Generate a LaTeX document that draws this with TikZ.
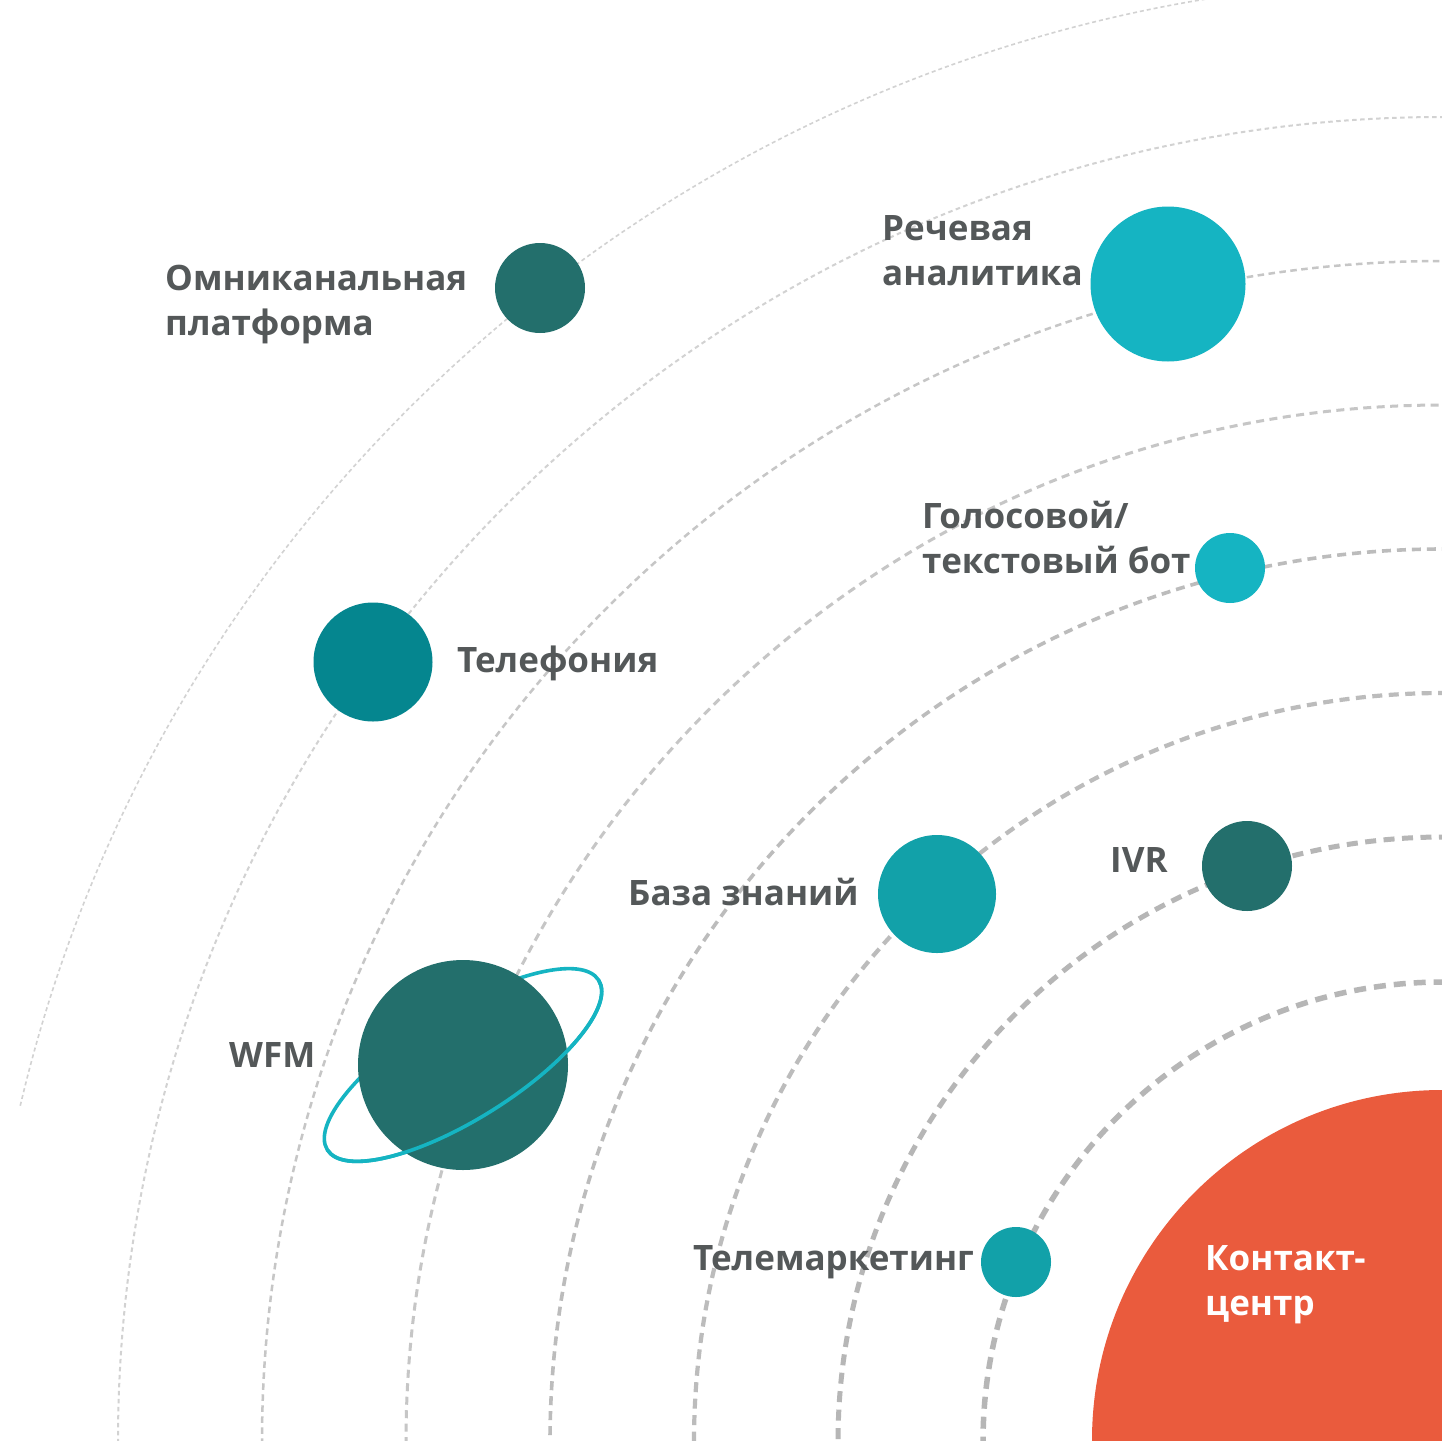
\documentclass[tikz,border=0pt]{standalone}
\usepackage{fontspec}
\setmainfont{Open Sans}
\definecolor{darkteal}{HTML}{236F6C}
\definecolor{cyanp}{HTML}{15B4C2}
\definecolor{tealp}{HTML}{05868F}
\definecolor{tealq}{HTML}{12A1A9}
\definecolor{redp}{HTML}{EA5B3D}
\definecolor{txtgray}{HTML}{545859}
\definecolor{arcA}{HTML}{B6B6B6}
\definecolor{arcB}{HTML}{BCBCBC}
\definecolor{arcC}{HTML}{C6C6C6}
\definecolor{arcD}{HTML}{D2D2D2}
\tikzset{
  planet/.style={circle, inner sep=0pt, draw=none},
  lbl/.style={anchor=base west, inner sep=0pt, text=txtgray, align=left,
    font=\bfseries\fontsize{35}{45}\selectfont},
  orbit/.style={line cap=butt}
}
\begin{document}
\begin{tikzpicture}[x=1pt,y=-1pt]
\useasboundingbox (0,0) rectangle (1442,1440);
\clip (0,0) rectangle (1442,1440);
\fill[white] (0,0) rectangle (1442,1440);
\coordinate (C) at (1443,1442);
% orbits
\foreach \r/\w/\on/\off/\c in {460/5.5/12/8/arcA, 605/5/11/7.5/arcA, 749/4.2/10/6.5/arcB, 893/3.6/9/6/arcB, 1037/3/8/5.5/arcC, 1181/2.5/6.5/4.5/arcC, 1325/2/4.5/3.5/arcD}
  \draw[orbit, line width=\w pt, dash pattern=on \on pt off \off pt, draw=\c] (C) circle[radius=\r pt];
\draw[orbit, line width=1.6pt, dash pattern=on 4pt off 3pt, draw=arcD] (C) ++(166.7:1462pt) coordinate (o8end) arc[start angle=166.7, end angle=80, radius=1462pt];
% central star
\node[planet, fill=redp, minimum size=700pt] (cc) at (1442,1440) {};
\node[lbl, text=white] (cct) at (1205,1315) {Контакт-\\центр};
% planets
\node[planet, fill=darkteal, minimum size=90pt] (omni) at (540,288) {};
\node[planet, fill=cyanp, minimum size=155pt] (speech) at (1168,284) {};
\node[planet, fill=cyanp, minimum size=70pt] (bot) at (1230,568) {};
\node[planet, fill=tealp, minimum size=119pt] (tel) at (373,662) {};
\node[planet, fill=tealq, minimum size=118pt] (kb) at (937,894) {};
\node[planet, fill=darkteal, minimum size=90pt] (ivr) at (1247,866) {};
\node[planet, fill=tealq, minimum size=70pt] (tm) at (1016,1262) {};
% WFM with ring
\coordinate (wfmc) at (463,1065);
\draw[cyanp, line width=3.6pt, shift={(wfmc)}, rotate=32] (0,0) ellipse[x radius=160pt, y radius=54pt];
\node[planet, fill=darkteal, minimum size=210pt] (wfm) at (wfmc) {};
\draw[cyanp, line width=3.6pt, shift={(wfmc)}, rotate=32] (-160pt,0pt) arc[start angle=180, end angle=360, x radius=160pt, y radius=54pt];
% labels
\node[lbl] (omnil) at (165,335) {Омниканальная\\платформа};
\node[lbl] (speechl) at (882,285) {Речевая\\аналитика};
\node[lbl] (botl) at (922,573) {Голосовой/\\текстовый бот};
\node[lbl] (tell) at (457,672) {Телефония};
\node[lbl] (kbl) at (628,905) {База знаний};
\node[lbl] (ivrl) at (1110,872) {IVR};
\node[lbl] (wfml) at (229,1067) {WFM};
\node[lbl] (tml) at (693,1270) {Телемаркетинг};
\end{tikzpicture}
\end{document}
